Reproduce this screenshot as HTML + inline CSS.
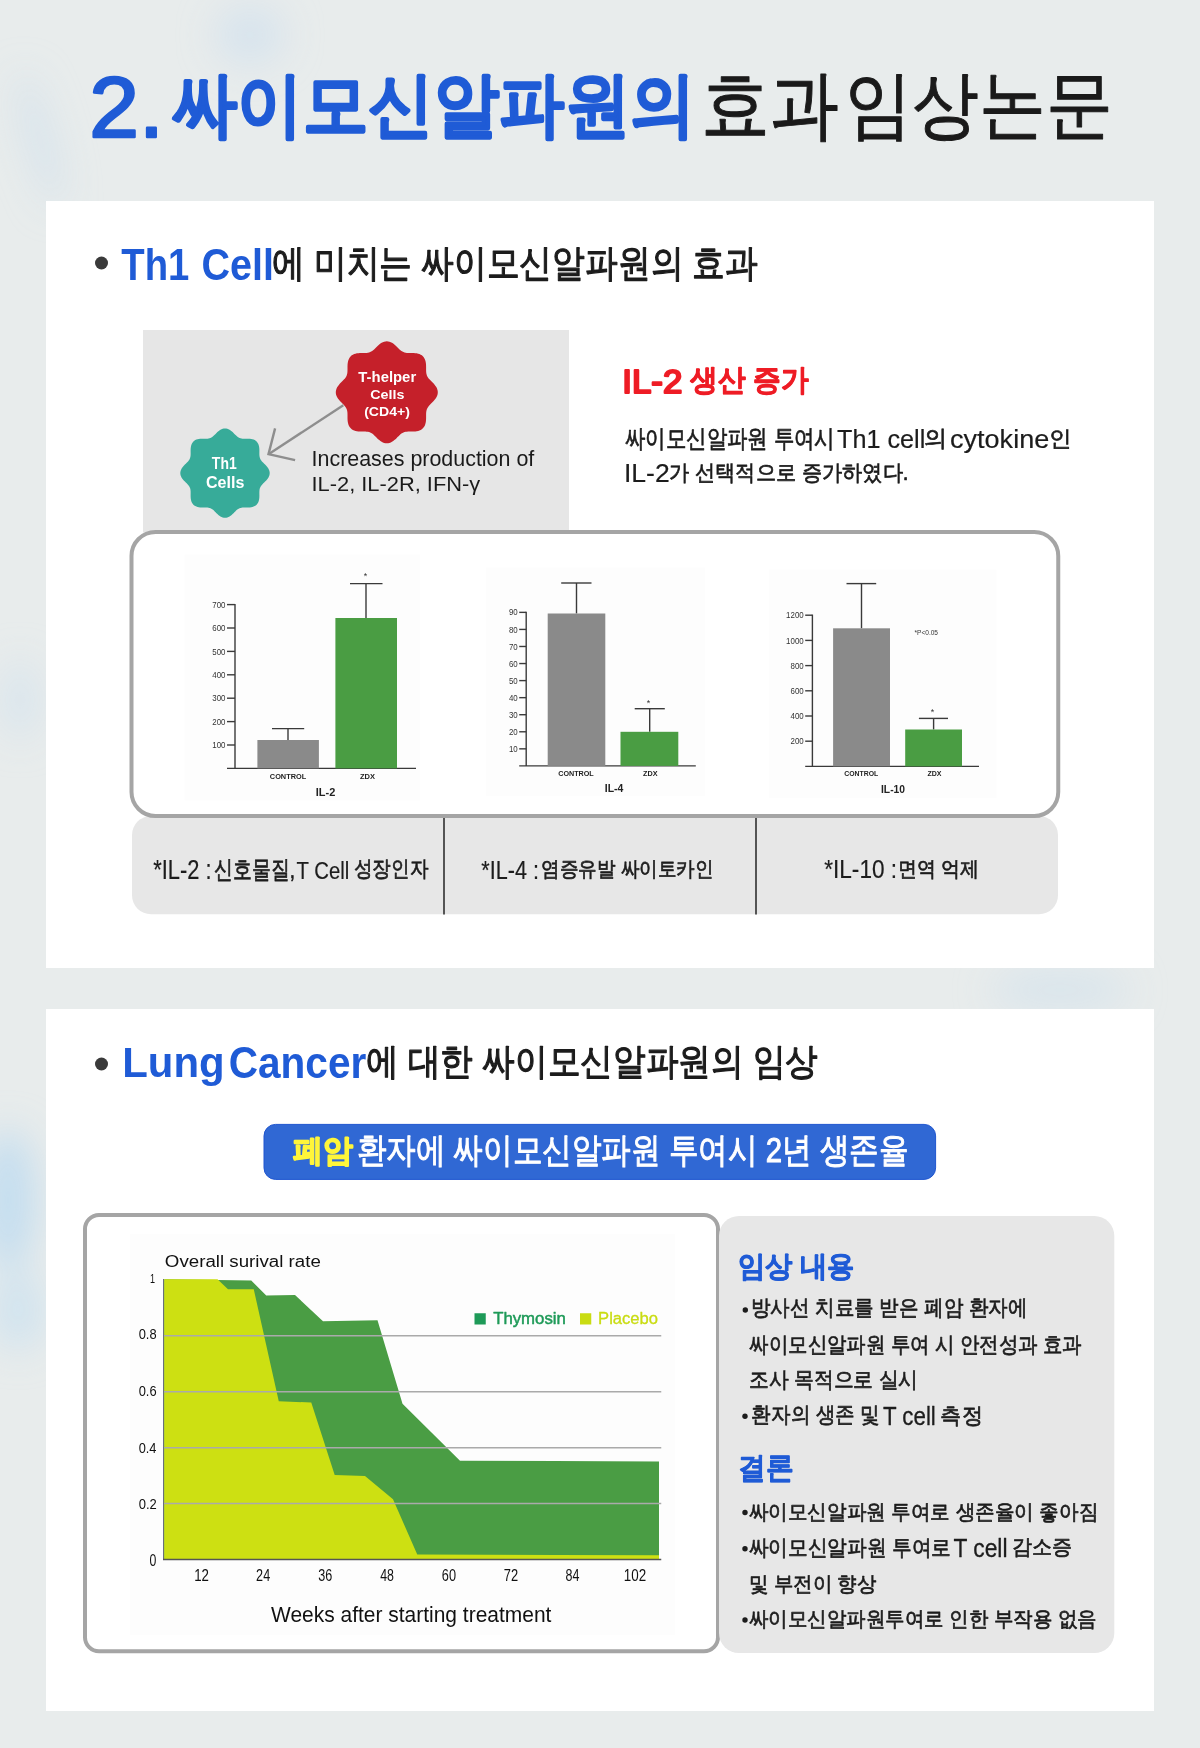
<!DOCTYPE html>
<html><head><meta charset="utf-8">
<style>
html,body{margin:0;padding:0}
body{width:1200px;height:1748px;position:relative;overflow:hidden;background:#e8ecec}
svg{position:absolute;left:0;top:0}
text{font-family:"Liberation Sans",sans-serif}
</style></head><body>
<svg width="1200" height="1748" viewBox="0 0 1200 1748">
<defs>
<filter id="bl30" x="-50%" y="-50%" width="200%" height="200%"><feGaussianBlur stdDeviation="18"/></filter>
<filter id="bl15" x="-50%" y="-50%" width="200%" height="200%"><feGaussianBlur stdDeviation="14"/></filter>
</defs>
<rect x="0" y="0" width="1200" height="1748" fill="#e8ecec"/>
<g filter="url(#bl30)">
<ellipse cx="40" cy="140" rx="12" ry="70" fill="#d0e0ec" opacity="0.8" transform="rotate(-15 40 140)"/>
<ellipse cx="250" cy="35" rx="35" ry="30" fill="#d3e2ed" opacity="0.8"/>
<ellipse cx="120" cy="300" rx="20" ry="60" fill="#dbe6ee" opacity="0.7"/>
<ellipse cx="8" cy="1200" rx="28" ry="70" fill="#c2dcef" opacity="0.95"/>
<ellipse cx="18" cy="1310" rx="26" ry="40" fill="#cde2f0" opacity="0.9"/>
<ellipse cx="20" cy="700" rx="18" ry="40" fill="#d5e3ee" opacity="0.8"/>
<ellipse cx="1060" cy="990" rx="70" ry="22" fill="#d6e3ec" opacity="0.8"/>
</g>
<rect x="46" y="201" width="1108" height="767" fill="#ffffff"/>
<rect x="46" y="1009" width="1108" height="702" fill="#ffffff"/>
<circle cx="101.5" cy="263" r="6.5" fill="#3a3a3a"/>
<circle cx="101.5" cy="1064" r="6.5" fill="#3a3a3a"/>
<rect x="143" y="330" width="426" height="202.5" fill="#e6e6e6"/>
<g stroke="#8e8e8e" stroke-width="2.4" fill="none" stroke-linecap="butt">
<line x1="343.3" y1="405.3" x2="268.5" y2="454.2"/>
<polyline points="275.1,428.4 268.5,454.2 295.1,460.1"/>
</g>
<path d="M386.80,341.30 L388.13,341.40 L389.45,341.69 L390.75,342.17 L392.00,342.81 L393.21,343.60 L394.37,344.49 L395.48,345.46 L396.54,346.47 L397.56,347.48 L398.54,348.47 L399.51,349.40 L400.46,350.25 L401.43,350.99 L402.42,351.61 L403.45,352.11 L404.53,352.49 L405.67,352.74 L406.87,352.90 L408.15,352.98 L409.49,353.00 L410.88,353.00 L412.32,353.00 L413.78,353.04 L415.25,353.14 L416.71,353.33 L418.11,353.63 L419.46,354.06 L420.71,354.64 L421.85,355.37 L422.86,356.24 L423.73,357.25 L424.46,358.39 L425.04,359.64 L425.47,360.99 L425.77,362.39 L425.96,363.85 L426.06,365.32 L426.10,366.78 L426.10,368.22 L426.10,369.61 L426.12,370.95 L426.20,372.23 L426.36,373.43 L426.61,374.57 L426.99,375.65 L427.49,376.68 L428.11,377.67 L428.85,378.64 L429.70,379.59 L430.63,380.56 L431.62,381.54 L432.63,382.56 L433.64,383.62 L434.61,384.73 L435.50,385.89 L436.29,387.10 L436.93,388.35 L437.41,389.65 L437.70,390.97 L437.80,392.30 L437.70,393.63 L437.41,394.95 L436.93,396.25 L436.29,397.50 L435.50,398.71 L434.61,399.87 L433.64,400.98 L432.63,402.04 L431.62,403.06 L430.63,404.04 L429.70,405.01 L428.85,405.96 L428.11,406.93 L427.49,407.92 L426.99,408.95 L426.61,410.03 L426.36,411.17 L426.20,412.37 L426.12,413.65 L426.10,414.99 L426.10,416.38 L426.10,417.82 L426.06,419.28 L425.96,420.75 L425.77,422.21 L425.47,423.61 L425.04,424.96 L424.46,426.21 L423.73,427.35 L422.86,428.36 L421.85,429.23 L420.71,429.96 L419.46,430.54 L418.11,430.97 L416.71,431.27 L415.25,431.46 L413.78,431.56 L412.32,431.60 L410.88,431.60 L409.49,431.60 L408.15,431.62 L406.87,431.70 L405.67,431.86 L404.53,432.11 L403.45,432.49 L402.42,432.99 L401.43,433.61 L400.46,434.35 L399.51,435.20 L398.54,436.13 L397.56,437.12 L396.54,438.13 L395.48,439.14 L394.37,440.11 L393.21,441.00 L392.00,441.79 L390.75,442.43 L389.45,442.91 L388.13,443.20 L386.80,443.30 L385.47,443.20 L384.15,442.91 L382.85,442.43 L381.60,441.79 L380.39,441.00 L379.23,440.11 L378.12,439.14 L377.06,438.13 L376.04,437.12 L375.06,436.13 L374.09,435.20 L373.14,434.35 L372.17,433.61 L371.18,432.99 L370.15,432.49 L369.07,432.11 L367.93,431.86 L366.73,431.70 L365.45,431.62 L364.11,431.60 L362.72,431.60 L361.28,431.60 L359.82,431.56 L358.35,431.46 L356.89,431.27 L355.49,430.97 L354.14,430.54 L352.89,429.96 L351.75,429.23 L350.74,428.36 L349.87,427.35 L349.14,426.21 L348.56,424.96 L348.13,423.61 L347.83,422.21 L347.64,420.75 L347.54,419.28 L347.50,417.82 L347.50,416.38 L347.50,414.99 L347.48,413.65 L347.40,412.37 L347.24,411.17 L346.99,410.03 L346.61,408.95 L346.11,407.92 L345.49,406.93 L344.75,405.96 L343.90,405.01 L342.97,404.04 L341.98,403.06 L340.97,402.04 L339.96,400.98 L338.99,399.87 L338.10,398.71 L337.31,397.50 L336.67,396.25 L336.19,394.95 L335.90,393.63 L335.80,392.30 L335.90,390.97 L336.19,389.65 L336.67,388.35 L337.31,387.10 L338.10,385.89 L338.99,384.73 L339.96,383.62 L340.97,382.56 L341.98,381.54 L342.97,380.56 L343.90,379.59 L344.75,378.64 L345.49,377.67 L346.11,376.68 L346.61,375.65 L346.99,374.57 L347.24,373.43 L347.40,372.23 L347.48,370.95 L347.50,369.61 L347.50,368.22 L347.50,366.78 L347.54,365.32 L347.64,363.85 L347.83,362.39 L348.13,360.99 L348.56,359.64 L349.14,358.39 L349.87,357.25 L350.74,356.24 L351.75,355.37 L352.89,354.64 L354.14,354.06 L355.49,353.63 L356.89,353.33 L358.35,353.14 L359.82,353.04 L361.28,353.00 L362.72,353.00 L364.11,353.00 L365.45,352.98 L366.73,352.90 L367.93,352.74 L369.07,352.49 L370.15,352.11 L371.18,351.61 L372.17,350.99 L373.14,350.25 L374.09,349.40 L375.06,348.47 L376.04,347.48 L377.06,346.47 L378.12,345.46 L379.23,344.49 L380.39,343.60 L381.60,342.81 L382.85,342.17 L384.15,341.69 L385.47,341.40Z" fill="#c5202a"/>
<path d="M225.00,428.40 L226.17,428.49 L227.32,428.75 L228.46,429.18 L229.56,429.75 L230.62,430.44 L231.63,431.24 L232.60,432.10 L233.52,433.00 L234.41,433.90 L235.27,434.78 L236.11,435.60 L236.94,436.35 L237.78,437.01 L238.64,437.56 L239.54,437.99 L240.49,438.32 L241.48,438.54 L242.54,438.67 L243.66,438.73 L244.84,438.74 L246.06,438.73 L247.33,438.71 L248.62,438.73 L249.91,438.81 L251.19,438.97 L252.43,439.22 L253.61,439.60 L254.72,440.10 L255.72,440.73 L256.61,441.49 L257.37,442.38 L258.00,443.38 L258.50,444.49 L258.88,445.67 L259.13,446.91 L259.29,448.19 L259.37,449.48 L259.39,450.77 L259.37,452.04 L259.36,453.26 L259.37,454.44 L259.43,455.56 L259.56,456.62 L259.78,457.61 L260.11,458.56 L260.54,459.46 L261.09,460.32 L261.75,461.16 L262.50,461.99 L263.32,462.83 L264.20,463.69 L265.10,464.58 L266.00,465.50 L266.86,466.47 L267.66,467.48 L268.35,468.54 L268.92,469.64 L269.35,470.78 L269.61,471.93 L269.70,473.10 L269.61,474.27 L269.35,475.42 L268.92,476.56 L268.35,477.66 L267.66,478.72 L266.86,479.73 L266.00,480.70 L265.10,481.62 L264.20,482.51 L263.32,483.37 L262.50,484.21 L261.75,485.04 L261.09,485.88 L260.54,486.74 L260.11,487.64 L259.78,488.59 L259.56,489.58 L259.43,490.64 L259.37,491.76 L259.36,492.94 L259.37,494.16 L259.39,495.43 L259.37,496.72 L259.29,498.01 L259.13,499.29 L258.88,500.53 L258.50,501.71 L258.00,502.82 L257.37,503.82 L256.61,504.71 L255.72,505.47 L254.72,506.10 L253.61,506.60 L252.43,506.98 L251.19,507.23 L249.91,507.39 L248.62,507.47 L247.33,507.49 L246.06,507.47 L244.84,507.46 L243.66,507.47 L242.54,507.53 L241.48,507.66 L240.49,507.88 L239.54,508.21 L238.64,508.64 L237.78,509.19 L236.94,509.85 L236.11,510.60 L235.27,511.42 L234.41,512.30 L233.52,513.20 L232.60,514.10 L231.63,514.96 L230.62,515.76 L229.56,516.45 L228.46,517.02 L227.32,517.45 L226.17,517.71 L225.00,517.80 L223.83,517.71 L222.68,517.45 L221.54,517.02 L220.44,516.45 L219.38,515.76 L218.37,514.96 L217.40,514.10 L216.48,513.20 L215.59,512.30 L214.73,511.42 L213.89,510.60 L213.06,509.85 L212.22,509.19 L211.36,508.64 L210.46,508.21 L209.51,507.88 L208.52,507.66 L207.46,507.53 L206.34,507.47 L205.16,507.46 L203.94,507.47 L202.67,507.49 L201.38,507.47 L200.09,507.39 L198.81,507.23 L197.57,506.98 L196.39,506.60 L195.28,506.10 L194.28,505.47 L193.39,504.71 L192.63,503.82 L192.00,502.82 L191.50,501.71 L191.12,500.53 L190.87,499.29 L190.71,498.01 L190.63,496.72 L190.61,495.43 L190.63,494.16 L190.64,492.94 L190.63,491.76 L190.57,490.64 L190.44,489.58 L190.22,488.59 L189.89,487.64 L189.46,486.74 L188.91,485.88 L188.25,485.04 L187.50,484.21 L186.68,483.37 L185.80,482.51 L184.90,481.62 L184.00,480.70 L183.14,479.73 L182.34,478.72 L181.65,477.66 L181.08,476.56 L180.65,475.42 L180.39,474.27 L180.30,473.10 L180.39,471.93 L180.65,470.78 L181.08,469.64 L181.65,468.54 L182.34,467.48 L183.14,466.47 L184.00,465.50 L184.90,464.58 L185.80,463.69 L186.68,462.83 L187.50,461.99 L188.25,461.16 L188.91,460.32 L189.46,459.46 L189.89,458.56 L190.22,457.61 L190.44,456.62 L190.57,455.56 L190.63,454.44 L190.64,453.26 L190.63,452.04 L190.61,450.77 L190.63,449.48 L190.71,448.19 L190.87,446.91 L191.12,445.67 L191.50,444.49 L192.00,443.38 L192.63,442.38 L193.39,441.49 L194.28,440.73 L195.28,440.10 L196.39,439.60 L197.57,439.22 L198.81,438.97 L200.09,438.81 L201.38,438.73 L202.67,438.71 L203.94,438.73 L205.16,438.74 L206.34,438.73 L207.46,438.67 L208.52,438.54 L209.51,438.32 L210.46,437.99 L211.36,437.56 L212.22,437.01 L213.06,436.35 L213.89,435.60 L214.73,434.78 L215.59,433.90 L216.48,433.00 L217.40,432.10 L218.37,431.24 L219.38,430.44 L220.44,429.75 L221.54,429.18 L222.68,428.75 L223.83,428.49Z" fill="#37ab99"/>
<rect x="132" y="816" width="926" height="98.3" rx="19" ry="19" fill="#e7e7e7"/>
<rect x="443" y="818" width="2" height="96.5" fill="#555"/>
<rect x="755" y="818" width="2" height="96.5" fill="#555"/>
<rect x="131.5" y="532" width="926.75" height="284" rx="24" ry="24" fill="#ffffff" stroke="#a5a5a5" stroke-width="4"/>
<g fill="#fdfdfd"><rect x="184.5" y="554.5" width="235.5" height="246"/><rect x="486" y="567.5" width="219" height="228.5"/><rect x="769" y="569.4" width="227.4" height="228.6"/></g>
<g stroke="#3a3a3a" stroke-width="1.4" fill="none">
<line x1="235" y1="604" x2="235" y2="768.4"/>
<line x1="227" y1="768.4" x2="416" y2="768.4"/>
<line x1="227" y1="745.00" x2="235" y2="745.00"/>
<line x1="227" y1="721.60" x2="235" y2="721.60"/>
<line x1="227" y1="698.20" x2="235" y2="698.20"/>
<line x1="227" y1="674.80" x2="235" y2="674.80"/>
<line x1="227" y1="651.40" x2="235" y2="651.40"/>
<line x1="227" y1="628.00" x2="235" y2="628.00"/>
<line x1="227" y1="604.60" x2="235" y2="604.60"/>
<line x1="288" y1="728.6" x2="288" y2="740"/>
<line x1="272" y1="728.6" x2="304.2" y2="728.6"/>
<line x1="366" y1="583.6" x2="366" y2="618"/>
<line x1="350" y1="583.6" x2="382.5" y2="583.6"/>
</g>
<rect x="257.4" y="740" width="61.50" height="28.40" fill="#8a8a8a"/>
<rect x="335.4" y="618" width="61.60" height="150.40" fill="#4a9d43"/>
<g fill="#333" font-size="8.6" text-anchor="end">
<text x="225.5" y="748.10" textLength="13.2" lengthAdjust="spacingAndGlyphs">100</text>
<text x="225.5" y="724.70" textLength="13.2" lengthAdjust="spacingAndGlyphs">200</text>
<text x="225.5" y="701.30" textLength="13.2" lengthAdjust="spacingAndGlyphs">300</text>
<text x="225.5" y="677.90" textLength="13.2" lengthAdjust="spacingAndGlyphs">400</text>
<text x="225.5" y="654.50" textLength="13.2" lengthAdjust="spacingAndGlyphs">500</text>
<text x="225.5" y="631.10" textLength="13.2" lengthAdjust="spacingAndGlyphs">600</text>
<text x="225.5" y="607.70" textLength="13.2" lengthAdjust="spacingAndGlyphs">700</text>
</g>
<text x="365.5" y="579" font-size="9" fill="#333" text-anchor="middle">*</text>
<g fill="#222" font-size="8" font-weight="bold" text-anchor="middle">
<text x="288" y="779.3" textLength="36.3" lengthAdjust="spacingAndGlyphs">CONTROL</text>
<text x="367.5" y="779.3" textLength="15" lengthAdjust="spacingAndGlyphs">ZDX</text>
</g>
<text x="325.5" y="795.7" font-size="10.5" font-weight="bold" fill="#222" text-anchor="middle" textLength="19.5" lengthAdjust="spacingAndGlyphs">IL-2</text>

<g stroke="#3a3a3a" stroke-width="1.4" fill="none">
<line x1="526.2" y1="611.8" x2="526.2" y2="765.9"/>
<line x1="519.2" y1="765.9" x2="695.8" y2="765.9"/>
<line x1="519.2" y1="748.84" x2="526.2" y2="748.84"/>
<line x1="519.2" y1="731.78" x2="526.2" y2="731.78"/>
<line x1="519.2" y1="714.72" x2="526.2" y2="714.72"/>
<line x1="519.2" y1="697.66" x2="526.2" y2="697.66"/>
<line x1="519.2" y1="680.60" x2="526.2" y2="680.60"/>
<line x1="519.2" y1="663.54" x2="526.2" y2="663.54"/>
<line x1="519.2" y1="646.48" x2="526.2" y2="646.48"/>
<line x1="519.2" y1="629.42" x2="526.2" y2="629.42"/>
<line x1="519.2" y1="612.36" x2="526.2" y2="612.36"/>
<line x1="576.5" y1="583" x2="576.5" y2="613.5"/>
<line x1="561.2" y1="583" x2="591.5" y2="583"/>
<line x1="649.7" y1="708.7" x2="649.7" y2="731.8"/>
<line x1="634.7" y1="708.7" x2="664.8" y2="708.7"/>
</g>
<rect x="547.7" y="613.5" width="57.60" height="152.40" fill="#8a8a8a"/>
<rect x="620.5" y="731.8" width="57.80" height="34.10" fill="#4a9d43"/>
<g fill="#333" font-size="8.6" text-anchor="end">
<text x="517.7" y="751.94" textLength="8.8" lengthAdjust="spacingAndGlyphs">10</text>
<text x="517.7" y="734.88" textLength="8.8" lengthAdjust="spacingAndGlyphs">20</text>
<text x="517.7" y="717.82" textLength="8.8" lengthAdjust="spacingAndGlyphs">30</text>
<text x="517.7" y="700.76" textLength="8.8" lengthAdjust="spacingAndGlyphs">40</text>
<text x="517.7" y="683.70" textLength="8.8" lengthAdjust="spacingAndGlyphs">50</text>
<text x="517.7" y="666.64" textLength="8.8" lengthAdjust="spacingAndGlyphs">60</text>
<text x="517.7" y="649.58" textLength="8.8" lengthAdjust="spacingAndGlyphs">70</text>
<text x="517.7" y="632.52" textLength="8.8" lengthAdjust="spacingAndGlyphs">80</text>
<text x="517.7" y="615.46" textLength="8.8" lengthAdjust="spacingAndGlyphs">90</text>
</g>
<text x="648.5" y="705.7" font-size="9" fill="#333" text-anchor="middle">*</text>
<g fill="#222" font-size="8" font-weight="bold" text-anchor="middle">
<text x="576" y="776.2" textLength="35.5" lengthAdjust="spacingAndGlyphs">CONTROL</text>
<text x="650.3" y="776.2" textLength="14.5" lengthAdjust="spacingAndGlyphs">ZDX</text>
</g>
<text x="614" y="791.5" font-size="10.5" font-weight="bold" fill="#222" text-anchor="middle" textLength="18.5" lengthAdjust="spacingAndGlyphs">IL-4</text>

<g stroke="#3a3a3a" stroke-width="1.4" fill="none">
<line x1="812.4" y1="614.6" x2="812.4" y2="766.4"/>
<line x1="805.2" y1="766.4" x2="979" y2="766.4"/>
<line x1="805.2" y1="741.20" x2="812.4" y2="741.20"/>
<line x1="805.2" y1="716.00" x2="812.4" y2="716.00"/>
<line x1="805.2" y1="690.80" x2="812.4" y2="690.80"/>
<line x1="805.2" y1="665.60" x2="812.4" y2="665.60"/>
<line x1="805.2" y1="640.40" x2="812.4" y2="640.40"/>
<line x1="805.2" y1="615.20" x2="812.4" y2="615.20"/>
<line x1="861.5" y1="583.6" x2="861.5" y2="628.3"/>
<line x1="846.5" y1="583.6" x2="876.2" y2="583.6"/>
<line x1="933.6" y1="718.4" x2="933.6" y2="729.5"/>
<line x1="918.9" y1="718.4" x2="948" y2="718.4"/>
</g>
<rect x="833.1" y="628.3" width="56.90" height="138.10" fill="#8a8a8a"/>
<rect x="905.2" y="729.5" width="56.80" height="36.90" fill="#4a9d43"/>
<g fill="#333" font-size="8.6" text-anchor="end">
<text x="803.7" y="744.30" textLength="13.2" lengthAdjust="spacingAndGlyphs">200</text>
<text x="803.7" y="719.10" textLength="13.2" lengthAdjust="spacingAndGlyphs">400</text>
<text x="803.7" y="693.90" textLength="13.2" lengthAdjust="spacingAndGlyphs">600</text>
<text x="803.7" y="668.70" textLength="13.2" lengthAdjust="spacingAndGlyphs">800</text>
<text x="803.7" y="643.50" textLength="17.6" lengthAdjust="spacingAndGlyphs">1000</text>
<text x="803.7" y="618.30" textLength="17.6" lengthAdjust="spacingAndGlyphs">1200</text>
</g>
<text x="932.6" y="714.7" font-size="9" fill="#333" text-anchor="middle">*</text>
<g fill="#222" font-size="8" font-weight="bold" text-anchor="middle">
<text x="861.3" y="776.1" textLength="34" lengthAdjust="spacingAndGlyphs">CONTROL</text>
<text x="934.4" y="776.1" textLength="14" lengthAdjust="spacingAndGlyphs">ZDX</text>
</g>
<text x="893" y="792.5" font-size="10.5" font-weight="bold" fill="#222" text-anchor="middle" textLength="24" lengthAdjust="spacingAndGlyphs">IL-10</text>
<text x="914.5" y="634.5" font-size="6.5" fill="#333" textLength="23.5" lengthAdjust="spacingAndGlyphs">*P&lt;0.05</text>
<rect x="264" y="1124.4" width="671.6" height="55" rx="11.5" ry="11.5" fill="#3068d4" stroke="#1f55cf" stroke-width="1"/>
<rect x="85" y="1215" width="633" height="436.3" rx="14" ry="14" fill="#ffffff" stroke="#a5a5a5" stroke-width="4"/>
<rect x="130" y="1234" width="545" height="401" fill="#fdfdfd"/>
<polygon points="164.25,1279.25 251.25,1280.5 266.25,1295.5 295,1295 323,1321.25 377.5,1320.25 402.5,1403.75 460,1460.75 659,1461.5 659,1559 164.25,1559" fill="#4a9d44"/>
<polygon points="164.25,1279.25 217.5,1279.25 228,1289.25 253.75,1289.25 278.75,1401.25 311.25,1402.5 334.7,1475 365,1476 393,1499.3 417.25,1554.6 659,1555.2 659,1559 164.25,1559" fill="#cde012"/>
<g stroke="#aaaaaa" stroke-width="1.3">
<line x1="164" y1="1335.75" x2="661.25" y2="1335.75"/>
<line x1="164" y1="1391.75" x2="661.25" y2="1391.75"/>
<line x1="164" y1="1447.75" x2="661.25" y2="1447.75"/>
<line x1="164" y1="1503.5" x2="661.25" y2="1503.5"/>
</g>
<line x1="163.5" y1="1279" x2="163.5" y2="1560" stroke="#6a6f7a" stroke-width="1"/>
<line x1="163" y1="1559.5" x2="661.25" y2="1559.5" stroke="#555" stroke-width="1.3"/>
<rect x="474.5" y="1313.25" width="11.25" height="11.25" fill="#1e9a58"/>
<rect x="580" y="1313.25" width="11.25" height="11.25" fill="#c9dc12"/>
<rect x="719" y="1216" width="395.3" height="437" rx="20" ry="20" fill="#e7e7e7"/>
<circle cx="745.3" cy="1310" r="2.7" fill="#1c1c1c"/>
<circle cx="745" cy="1416.25" r="2.7" fill="#1c1c1c"/>
<circle cx="745" cy="1512.5" r="2.7" fill="#1c1c1c"/>
<circle cx="745" cy="1548.75" r="2.7" fill="#1c1c1c"/>
<circle cx="745" cy="1620" r="2.7" fill="#1c1c1c"/>
<g id="texts">
<text x="89.28" y="137.05" font-size="85.71" font-weight="normal" fill="#1f5bd6" textLength="74.58" lengthAdjust="spacingAndGlyphs" stroke="#1f5bd6" stroke-width="2.5" stroke-linejoin="round">2.</text>
<text x="171.80" y="129.31" font-size="71.20" font-weight="bold" fill="#1f5bd6" textLength="523.87" lengthAdjust="spacingAndGlyphs" stroke="#1f5bd6" stroke-width="2" stroke-linejoin="round">싸이모신알파원의</text>
<text x="701.48" y="130.60" font-size="75.73" font-weight="normal" fill="#1a1a1a" textLength="137.58" lengthAdjust="spacingAndGlyphs" stroke="#1a1a1a" stroke-width="1" stroke-linejoin="round">효과</text>
<text x="845.16" y="130.12" font-size="73.89" font-weight="normal" fill="#1a1a1a" textLength="267.19" lengthAdjust="spacingAndGlyphs" stroke="#1a1a1a" stroke-width="1" stroke-linejoin="round">임상논문</text>
<text x="121.32" y="280.00" font-size="44.79" font-weight="bold" fill="#1f5bd6" textLength="68.05" lengthAdjust="spacingAndGlyphs">Th1</text>
<text x="201.42" y="280.05" font-size="44.86" font-weight="bold" fill="#1f5bd6" textLength="72.51" lengthAdjust="spacingAndGlyphs">Cell</text>
<text x="271.93" y="275.83" font-size="37.64" font-weight="normal" fill="#1c1c1c" textLength="486.07" lengthAdjust="spacingAndGlyphs" stroke="#1c1c1c" stroke-width="1.2" stroke-linejoin="round">에 미치는 싸이모신알파원의 효과</text>
<text x="122.27" y="1077.16" font-size="43.28" font-weight="bold" fill="#1f5bd6" textLength="102.39" lengthAdjust="spacingAndGlyphs">Lung</text>
<text x="228.78" y="1078.06" font-size="43.94" font-weight="bold" fill="#1f5bd6" textLength="137.45" lengthAdjust="spacingAndGlyphs">Cancer</text>
<text x="366.14" y="1073.90" font-size="36.67" font-weight="normal" fill="#1c1c1c" textLength="451.86" lengthAdjust="spacingAndGlyphs" stroke="#1c1c1c" stroke-width="1.2" stroke-linejoin="round">에 대한 싸이모신알파원의 임상</text>
<text x="622.27" y="393.30" font-size="33.43" font-weight="normal" fill="#ee1c25" textLength="59.99" lengthAdjust="spacingAndGlyphs" stroke="#ee1c25" stroke-width="2.2" stroke-linejoin="round">IL-2</text>
<text x="690.20" y="390.10" font-size="30.00" font-weight="bold" fill="#ee1c25" textLength="118.62" lengthAdjust="spacingAndGlyphs" stroke="#ee1c25" stroke-width="0.8" stroke-linejoin="round">생산 증가</text>
<text x="624.74" y="447.14" font-size="25.06" font-weight="normal" fill="#1c1c1c" textLength="210.19" lengthAdjust="spacingAndGlyphs" stroke="#1c1c1c" stroke-width="0.7" stroke-linejoin="round">싸이모신알파원 투여시</text>
<text x="837.10" y="448.24" font-size="25.81" font-weight="normal" fill="#1c1c1c" textLength="88.20" lengthAdjust="spacingAndGlyphs" stroke="#1c1c1c" stroke-width="0.2" stroke-linejoin="round">Th1 cell</text>
<text x="923.73" y="446.21" font-size="22.81" font-weight="normal" fill="#1c1c1c" textLength="23.08" lengthAdjust="spacingAndGlyphs" stroke="#1c1c1c" stroke-width="0.7" stroke-linejoin="round">의</text>
<text x="950.02" y="447.98" font-size="26.28" font-weight="normal" fill="#1c1c1c" textLength="99.20" lengthAdjust="spacingAndGlyphs" stroke="#1c1c1c" stroke-width="0.2" stroke-linejoin="round">cytokine</text>
<text x="1048.62" y="446.23" font-size="22.24" font-weight="normal" fill="#1c1c1c" textLength="22.57" lengthAdjust="spacingAndGlyphs" stroke="#1c1c1c" stroke-width="0.7" stroke-linejoin="round">인</text>
<text x="623.97" y="482.40" font-size="26.50" font-weight="normal" fill="#1c1c1c" textLength="45.65" lengthAdjust="spacingAndGlyphs" stroke="#1c1c1c" stroke-width="0.2" stroke-linejoin="round">IL-2</text>
<text x="668.93" y="480.04" font-size="22.39" font-weight="normal" fill="#1c1c1c" textLength="239.61" lengthAdjust="spacingAndGlyphs" stroke="#1c1c1c" stroke-width="0.7" stroke-linejoin="round">가 선택적으로 증가하였다.</text>
<text x="153.16" y="878.80" font-size="26.71" font-weight="normal" fill="#1c1c1c" textLength="58.41" lengthAdjust="spacingAndGlyphs" stroke="#1c1c1c" stroke-width="0.2" stroke-linejoin="round">*IL-2 :</text>
<text x="214.41" y="878.43" font-size="24.77" font-weight="normal" fill="#1c1c1c" textLength="80.65" lengthAdjust="spacingAndGlyphs" stroke="#1c1c1c" stroke-width="0.7" stroke-linejoin="round">신호물질,</text>
<text x="296.59" y="878.56" font-size="24.26" font-weight="normal" fill="#1c1c1c" textLength="52.69" lengthAdjust="spacingAndGlyphs" stroke="#1c1c1c" stroke-width="0.2" stroke-linejoin="round">T Cell</text>
<text x="353.82" y="876.11" font-size="21.69" font-weight="normal" fill="#1c1c1c" textLength="74.49" lengthAdjust="spacingAndGlyphs" stroke="#1c1c1c" stroke-width="0.7" stroke-linejoin="round">성장인자</text>
<text x="481.37" y="878.60" font-size="25.72" font-weight="normal" fill="#1c1c1c" textLength="57.53" lengthAdjust="spacingAndGlyphs" stroke="#1c1c1c" stroke-width="0.2" stroke-linejoin="round">*IL-4 :</text>
<text x="541.18" y="875.79" font-size="20.72" font-weight="normal" fill="#1c1c1c" textLength="172.45" lengthAdjust="spacingAndGlyphs" stroke="#1c1c1c" stroke-width="0.7" stroke-linejoin="round">염증유발 싸이토카인</text>
<text x="824.25" y="878.34" font-size="25.63" font-weight="normal" fill="#1c1c1c" textLength="72.78" lengthAdjust="spacingAndGlyphs" stroke="#1c1c1c" stroke-width="0.2" stroke-linejoin="round">*IL-10 :</text>
<text x="898.07" y="875.85" font-size="20.67" font-weight="normal" fill="#1c1c1c" textLength="81.20" lengthAdjust="spacingAndGlyphs" stroke="#1c1c1c" stroke-width="0.7" stroke-linejoin="round">면역 억제</text>
<text x="292.65" y="1161.45" font-size="31.18" font-weight="bold" fill="#fff53a" textLength="59.90" lengthAdjust="spacingAndGlyphs" stroke="#fff53a" stroke-width="1.5" stroke-linejoin="round">폐암</text>
<text x="356.53" y="1162.14" font-size="34.72" font-weight="normal" fill="#ffffff" textLength="552.16" lengthAdjust="spacingAndGlyphs" stroke="#ffffff" stroke-width="1" stroke-linejoin="round">환자에 싸이모신알파원 투여시 2년 생존율</text>
<text x="737.69" y="1276.42" font-size="28.71" font-weight="bold" fill="#1f5bd6" textLength="116.79" lengthAdjust="spacingAndGlyphs" stroke="#1f5bd6" stroke-width="0.8" stroke-linejoin="round">임상 내용</text>
<text x="750.69" y="1315.48" font-size="22.44" font-weight="normal" fill="#1c1c1c" textLength="276.73" lengthAdjust="spacingAndGlyphs" stroke="#1c1c1c" stroke-width="0.7" stroke-linejoin="round">방사선 치료를 받은 폐암 환자에</text>
<text x="749.17" y="1351.61" font-size="21.69" font-weight="normal" fill="#1c1c1c" textLength="332.79" lengthAdjust="spacingAndGlyphs" stroke="#1c1c1c" stroke-width="0.7" stroke-linejoin="round">싸이모신알파원 투여 시 안전성과 효과</text>
<text x="748.96" y="1387.02" font-size="21.56" font-weight="normal" fill="#1c1c1c" textLength="169.37" lengthAdjust="spacingAndGlyphs" stroke="#1c1c1c" stroke-width="0.7" stroke-linejoin="round">조사 목적으로 실시</text>
<text x="751.48" y="1422.43" font-size="21.70" font-weight="normal" fill="#1c1c1c" textLength="128.25" lengthAdjust="spacingAndGlyphs" stroke="#1c1c1c" stroke-width="0.7" stroke-linejoin="round">환자의 생존 및</text>
<text x="882.95" y="1424.70" font-size="24.86" font-weight="normal" fill="#1c1c1c" textLength="52.86" lengthAdjust="spacingAndGlyphs" stroke="#1c1c1c" stroke-width="0.3" stroke-linejoin="round">T cell</text>
<text x="940.47" y="1422.61" font-size="21.94" font-weight="normal" fill="#1c1c1c" textLength="42.36" lengthAdjust="spacingAndGlyphs" stroke="#1c1c1c" stroke-width="0.7" stroke-linejoin="round">측정</text>
<text x="738.36" y="1478.02" font-size="29.89" font-weight="bold" fill="#1f5bd6" textLength="55.51" lengthAdjust="spacingAndGlyphs" stroke="#1f5bd6" stroke-width="0.6" stroke-linejoin="round">결론</text>
<text x="748.51" y="1518.76" font-size="21.21" font-weight="normal" fill="#1c1c1c" textLength="349.75" lengthAdjust="spacingAndGlyphs" stroke="#1c1c1c" stroke-width="0.7" stroke-linejoin="round">싸이모신알파원 투여로 생존율이 좋아짐</text>
<text x="748.51" y="1554.61" font-size="21.69" font-weight="normal" fill="#1c1c1c" textLength="202.68" lengthAdjust="spacingAndGlyphs" stroke="#1c1c1c" stroke-width="0.7" stroke-linejoin="round">싸이모신알파원 투여로</text>
<text x="953.44" y="1557.19" font-size="25.74" font-weight="normal" fill="#1c1c1c" textLength="54.05" lengthAdjust="spacingAndGlyphs" stroke="#1c1c1c" stroke-width="0.3" stroke-linejoin="round">T cell</text>
<text x="1011.75" y="1554.43" font-size="21.44" font-weight="normal" fill="#1c1c1c" textLength="60.11" lengthAdjust="spacingAndGlyphs" stroke="#1c1c1c" stroke-width="0.7" stroke-linejoin="round">감소증</text>
<text x="748.81" y="1590.66" font-size="21.21" font-weight="normal" fill="#1c1c1c" textLength="127.59" lengthAdjust="spacingAndGlyphs" stroke="#1c1c1c" stroke-width="0.7" stroke-linejoin="round">및 부전이 향상</text>
<text x="748.51" y="1626.43" font-size="21.44" font-weight="normal" fill="#1c1c1c" textLength="348.37" lengthAdjust="spacingAndGlyphs" stroke="#1c1c1c" stroke-width="0.7" stroke-linejoin="round">싸이모신알파원투여로 인한 부작용 없음</text>
<text x="311.57" y="466.24" font-size="21.70" font-weight="normal" fill="#1a1a1a" textLength="222.72" lengthAdjust="spacingAndGlyphs">Increases production of</text>
<text x="311.53" y="490.88" font-size="20.55" font-weight="normal" fill="#1a1a1a" textLength="168.75" lengthAdjust="spacingAndGlyphs">IL-2, IL-2R, IFN-γ</text>
<text x="358.35" y="381.76" font-size="15.43" font-weight="bold" fill="#ffffff" textLength="57.84" lengthAdjust="spacingAndGlyphs">T-helper</text>
<text x="370.18" y="399.37" font-size="13.38" font-weight="bold" fill="#ffffff" textLength="34.20" lengthAdjust="spacingAndGlyphs">Cells</text>
<text x="364.20" y="416.06" font-size="12.82" font-weight="bold" fill="#ffffff" textLength="45.77" lengthAdjust="spacingAndGlyphs">(CD4+)</text>
<text x="211.86" y="469.00" font-size="16.99" font-weight="bold" fill="#ffffff" textLength="24.83" lengthAdjust="spacingAndGlyphs">Th1</text>
<text x="205.96" y="488.04" font-size="15.68" font-weight="bold" fill="#ffffff" textLength="38.39" lengthAdjust="spacingAndGlyphs">Cells</text>
<text x="164.86" y="1266.54" font-size="15.81" font-weight="normal" fill="#111" textLength="156.00" lengthAdjust="spacingAndGlyphs">Overall surival rate</text>
<text x="271.04" y="1621.78" font-size="21.28" font-weight="normal" fill="#111" textLength="280.34" lengthAdjust="spacingAndGlyphs">Weeks after starting treatment</text>
<text x="493.16" y="1324.18" font-size="17.02" font-weight="normal" fill="#1e9a58" textLength="72.67" lengthAdjust="spacingAndGlyphs" stroke="#1e9a58" stroke-width="0.5" stroke-linejoin="round">Thymosin</text>
<text x="598.07" y="1323.93" font-size="16.82" font-weight="normal" fill="#c9dc12" textLength="60.01" lengthAdjust="spacingAndGlyphs" stroke="#c9dc12" stroke-width="0.3" stroke-linejoin="round">Placebo</text>
<text x="150.07" y="1282.50" font-size="13.33" font-weight="normal" fill="#111" textLength="5.05" lengthAdjust="spacingAndGlyphs">1</text>
<text x="138.68" y="1339.35" font-size="15.35" font-weight="normal" fill="#111" textLength="17.93" lengthAdjust="spacingAndGlyphs">0.8</text>
<text x="138.68" y="1395.95" font-size="15.35" font-weight="normal" fill="#111" textLength="17.93" lengthAdjust="spacingAndGlyphs">0.6</text>
<text x="138.69" y="1452.55" font-size="15.21" font-weight="normal" fill="#111" textLength="17.80" lengthAdjust="spacingAndGlyphs">0.4</text>
<text x="138.68" y="1508.65" font-size="15.35" font-weight="normal" fill="#111" textLength="18.07" lengthAdjust="spacingAndGlyphs">0.2</text>
<text x="149.51" y="1565.54" font-size="16.06" font-weight="normal" fill="#111" textLength="6.84" lengthAdjust="spacingAndGlyphs">0</text>
<text x="194.14" y="1581.00" font-size="16.71" font-weight="normal" fill="#111" textLength="14.76" lengthAdjust="spacingAndGlyphs">12</text>
<text x="256.12" y="1581.00" font-size="16.71" font-weight="normal" fill="#111" textLength="14.04" lengthAdjust="spacingAndGlyphs">24</text>
<text x="318.30" y="1580.84" font-size="16.48" font-weight="normal" fill="#111" textLength="14.04" lengthAdjust="spacingAndGlyphs">36</text>
<text x="380.15" y="1580.84" font-size="16.48" font-weight="normal" fill="#111" textLength="13.77" lengthAdjust="spacingAndGlyphs">48</text>
<text x="441.86" y="1580.84" font-size="16.48" font-weight="normal" fill="#111" textLength="14.18" lengthAdjust="spacingAndGlyphs">60</text>
<text x="503.86" y="1581.00" font-size="16.71" font-weight="normal" fill="#111" textLength="14.32" lengthAdjust="spacingAndGlyphs">72</text>
<text x="565.60" y="1580.84" font-size="16.48" font-weight="normal" fill="#111" textLength="13.90" lengthAdjust="spacingAndGlyphs">84</text>
<text x="623.83" y="1580.84" font-size="16.48" font-weight="normal" fill="#111" textLength="22.32" lengthAdjust="spacingAndGlyphs">102</text>
</g>
</svg>
</body></html>
